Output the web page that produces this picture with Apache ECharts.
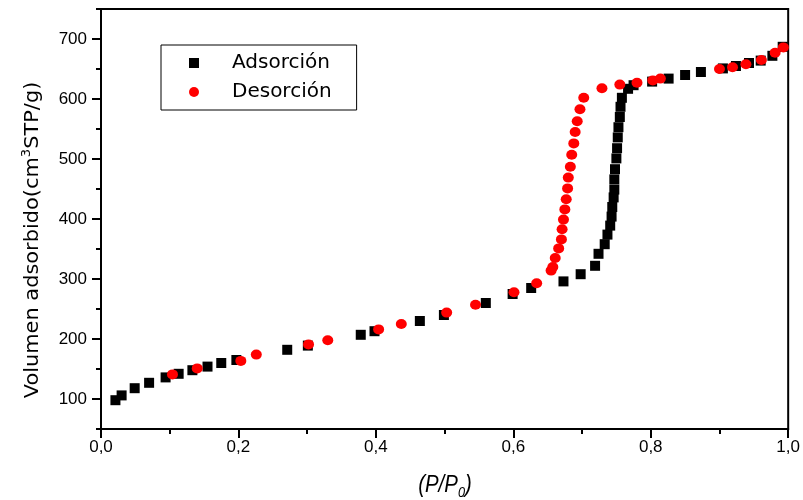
<!DOCTYPE html>
<html>
<head>
<meta charset="utf-8">
<script src="https://cdn.jsdelivr.net/npm/echarts@6/dist/echarts.min.js"></script>
<style>html,body{margin:0;padding:0;background:#fff}#c{width:803px;height:500px}</style>
</head>
<body>
<div id="c"></div>
<script>
const adsorcionX = [0.021,0.030,0.049,0.070,0.094,0.113,0.133,0.155,0.175,0.197,0.271,0.301,0.378,0.398,0.464,0.499,0.560,0.599,0.626,0.673,0.698,0.719,0.724,0.733,0.737,0.741,0.743,0.744,0.746,0.747,0.747,0.748,0.750,0.751,0.752,0.753,0.755,0.756,0.758,0.767,0.775,0.802,0.826,0.850,0.873,0.905,0.924,0.943,0.960,0.977,0.992];
const adsorcionY = [98,106,118,127,136,142,148,154,160,165,182,189,207,213,230,240,260,275,285,296,308,322,342,358,374,389,404,420,436,449,466,483,501,518,536,553,570,587,602,617,623,629,634,640,645,651,655,660,664,672,687];
const desorcionX = [0.104,0.140,0.2035,0.226,0.302,0.330,0.404,0.437,0.503,0.545,0.601,0.634,0.655,0.6575,0.661,0.666,0.670,0.671,0.673,0.675,0.677,0.679,0.680,0.683,0.685,0.688,0.690,0.693,0.697,0.7025,0.729,0.755,0.780,0.803,0.814,0.900,0.919,0.9385,0.961,0.981,0.993];
const desorcionY = [141,151,163.5,174,191,198,216,225,244,257,278,293,314,320,335,351,366,383,399,416,433,451,469,487,507,526,545,563,583,602,618,624,627,631,634,650,653,658,665,677,686];
const yLabels = [100, 200, 300, 400, 500, 600, 700];
const yMinorTicks = [50, 150, 250, 350, 450, 550, 650, 750];

const chart = echarts.init(document.getElementById('c'), null, {renderer: 'canvas'});
const pair = (xs, ys) => xs.map((x, i) => [x, ys[i]]);
const axisFont = 'Liberation Sans';
chart.setOption({
  animation: false,
  backgroundColor: '#fff',
  grid: {left: 101, right: 14, top: 9, bottom: 71, show: true, borderColor: '#000', borderWidth: 2, backgroundColor: 'transparent'},
  legend: {
    orient: 'vertical', left: 161, top: 45,
    padding: [8, 25, 8, 28], itemGap: 9,
    borderColor: '#000', borderWidth: 1,
    itemWidth: 10, itemHeight: 10,
    textStyle: {fontFamily: 'DejaVu Sans', fontSize: 20, color: '#000', padding: [0, 0, 0, 28]},
    data: [{name: 'Adsorción', icon: 'rect'}, {name: 'Desorción', icon: 'circle'}]
  },
  xAxis: {
    type: 'value', min: 0, max: 1, interval: 0.2,
    axisLine: {lineStyle: {color: '#000', width: 2}},
    axisTick: {length: 9, lineStyle: {color: '#000', width: 2}},
    minorTick: {show: true, splitNumber: 2, length: 5, lineStyle: {color: '#000', width: 2}},
    splitLine: {show: false},
    axisLabel: {margin: 10, color: '#000', fontFamily: axisFont, fontSize: 17,
      formatter: v => v.toFixed(1).replace('.', ',')}
  },
  yAxis: [{
    type: 'value', min: 50, max: 750,
    axisLine: {lineStyle: {color: '#000', width: 2}},
    axisTick: {length: 5, customValues: yMinorTicks, lineStyle: {color: '#000', width: 2}},
    splitLine: {show: false},
    axisLabel: {show: false}
  }, {
    type: 'value', min: 50, max: 750, position: 'left',
    axisLine: {show: false},
    axisTick: {show: true, length: 9, customValues: yLabels, lineStyle: {color: '#000', width: 2}},
    splitLine: {show: false},
    axisLabel: {margin: 14, color: '#000', fontFamily: axisFont, fontSize: 17, customValues: yLabels}
  }],
  graphic: [{
    type: 'text', x: 33, y: 240, rotation: Math.PI / 2, scaleX: 1.1,
    style: {
      text: 'Volumen adsorbido(cm{sup|3}STP/g)',
      fontFamily: 'DejaVu Sans', fontSize: 19, fill: '#000',
      align: 'center', verticalAlign: 'middle',
      rich: {sup: {fontSize: 12, fontFamily: 'DejaVu Sans', padding: [0, 0, 12, 0]}}
    }
  }, {
    type: 'text', x: 445, y: 485, scaleX: 0.85,
    style: {
      text: '(P/P{sub|0})',
      fontFamily: axisFont, fontStyle: 'italic', fontSize: 24, fill: '#000',
      align: 'center', verticalAlign: 'middle',
      rich: {sub: {fontFamily: axisFont, fontStyle: 'italic', fontSize: 15, padding: [16, 0, 0, 0]}}
    }
  }],
  series: [{
    name: 'Adsorción', type: 'scatter', symbol: 'rect', symbolSize: 10,
    itemStyle: {color: '#000', opacity: 1},
    data: pair(adsorcionX, adsorcionY), z: 2
  }, {
    name: 'Desorción', type: 'scatter', symbol: 'circle', symbolSize: [11, 10],
    itemStyle: {color: '#ff0000', opacity: 1},
    data: pair(desorcionX, desorcionY), z: 3
  }]
});
</script>
</body>
</html>
